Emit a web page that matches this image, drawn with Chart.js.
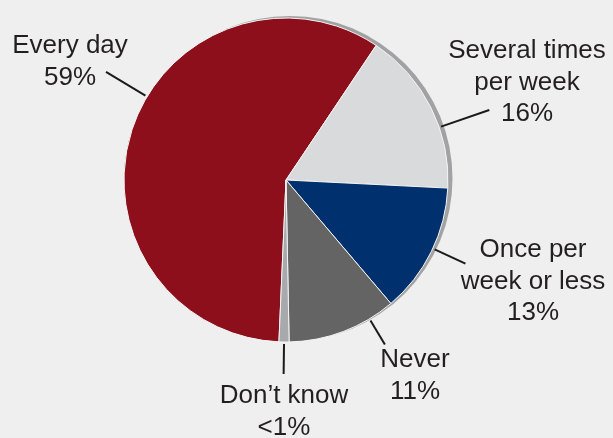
<!DOCTYPE html>
<html>
<head>
<meta charset="utf-8">
<script src="https://cdn.jsdelivr.net/npm/chart.js@4/dist/chart.umd.min.js"></script>
<style>
    body { margin: 0; background: #efefef; }
    #wrap { width: 613px; height: 438px; }
</style>
</head>
<body>
<div id="wrap"><canvas id="pie" width="613" height="438"></canvas></div>
<script>
// data, clockwise from the red slice
const categories = ['Every day', 'Several times per week', 'Once per week or less', 'Never', 'Don\u2019t know']
const shares = [58.7, 16.4, 13, 10.9, 1]
const shareLabels = ['59%', '16%', '13%', '11%', '<1%']
const labelLines = [
    ['Every day'],
    ['Several times', 'per week'],
    ['Once per', 'week or less'],
    ['Never'],
    ['Don\u2019t know']
]
const colors = ['#8c0f1b', '#d9dadc', '#00316e', '#646464', '#a7a9ac']

// where each call-out sits: angle of leader (deg clockwise from top), leader length, text offset from centre
const callouts = [
    { angle: 301, len: 48, dx: -216, dy: -127 },
    { angle: 71, len: 53, dx: 241, dy: -122 },
    { angle: 115, len: 36, dx: 247, dy: 77 },
    { angle: 149, len: 30, dx: 129, dy: 187 },
    { angle: 180.7, len: 32, dx: -2, dy: 223 }
]

const shadowPlugin = {
    id: 'shadow',
    beforeDatasetsDraw(chart) {
        const arc = chart.getDatasetMeta(0).data[0]
        const ctx = chart.ctx
        ctx.save()
        ctx.fillStyle = '#a2a2a4'
        ctx.beginPath()
        ctx.arc(arc.x + 4, arc.y - 1.5, arc.outerRadius + 0.5, 0, Math.PI * 2)
        ctx.fill()
        ctx.restore()
    }
}

const calloutPlugin = {
    id: 'callouts',
    afterDatasetsDraw(chart) {
        const arc = chart.getDatasetMeta(0).data[0]
        const cx = arc.x
        const cy = arc.y
        const r = arc.outerRadius
        const ctx = chart.ctx
        ctx.save()
        ctx.strokeStyle = '#1a1a1a'
        ctx.lineWidth = 2
        ctx.fillStyle = '#231f20'
        ctx.font = '26px "Liberation Sans", Arial, sans-serif'
        ctx.textAlign = 'center'
        ctx.textBaseline = 'alphabetic'

        callouts.forEach((c, i) => {
            const a = c.angle * Math.PI / 180
            const r1 = r + 2
            const r2 = r + c.len
            ctx.beginPath()
            ctx.moveTo(cx + r1 * Math.sin(a), cy - r1 * Math.cos(a))
            ctx.lineTo(cx + r2 * Math.sin(a), cy - r2 * Math.cos(a))
            ctx.stroke()

            const lines = labelLines[i].concat([shareLabels[i]])
            lines.forEach((t, j) => {
                ctx.fillText(t, cx + c.dx, cy + c.dy + j * 31.5)
            })
        })
        ctx.restore()
    }
}

new Chart(document.getElementById('pie'), {
    type: 'pie',
    data: {
        labels: categories,
        datasets: [{
            data: shares,
            backgroundColor: colors,
            borderColor: '#f4f4f4',
            borderWidth: 1
        }]
    },
    options: {
        responsive: false,
        animation: false,
        rotation: 182.5,
        layout: { padding: { left: 123.5, right: 164.5, top: 17.5, bottom: 95.5 } },
        plugins: {
            legend: { display: false },
            tooltip: { enabled: false }
        }
    },
    plugins: [shadowPlugin, calloutPlugin]
})
</script>
</body>
</html>
